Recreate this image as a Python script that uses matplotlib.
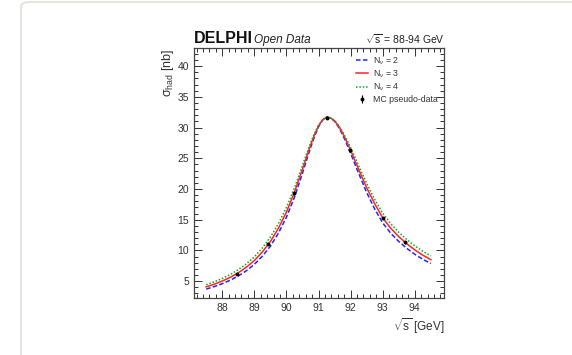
import matplotlib
matplotlib.use('Agg')
import matplotlib.pyplot as plt
from matplotlib.patches import FancyBboxPatch
from matplotlib.ticker import MultipleLocator

plt.rcParams['font.family'] = ['Liberation Sans', 'DejaVu Sans']
plt.rcParams['mathtext.fontset'] = 'custom'
plt.rcParams['mathtext.rm'] = 'Liberation Sans'
plt.rcParams['mathtext.it'] = 'Liberation Sans:italic'
plt.rcParams['mathtext.bf'] = 'Liberation Sans:bold'

# curve sample energies (GeV)
energy = [87.5, 87.75, 88.0, 88.25, 88.5, 88.75, 89.0, 89.25, 89.5, 89.75,
          90.0, 90.25, 90.5, 90.625, 90.75, 90.875, 91.0, 91.125, 91.25, 91.375,
          91.5, 91.625, 91.75, 91.875, 92.0, 92.25, 92.5, 92.75, 93.0, 93.25,
          93.5, 93.75, 94.0, 94.25, 94.5]

# cross sections (nb)
sigma_n2 = [3.70, 4.11, 4.58, 5.15, 5.84, 6.68, 7.72, 9.05, 10.68, 12.80,
            15.40, 18.65, 22.57, 24.64, 26.68, 28.55, 30.11, 31.20, 31.70, 31.57,
            31.02, 30.08, 28.84, 27.39, 25.80, 22.56, 19.44, 16.75, 14.47, 12.80,
            11.46, 10.34, 9.37, 8.55, 7.86]
sigma_n3 = [4.07, 4.50, 5.01, 5.62, 6.36, 7.26, 8.35, 9.75, 11.44, 13.60,
            16.24, 19.45, 23.24, 25.20, 27.10, 28.83, 30.26, 31.24, 31.68, 31.58,
            31.09, 30.23, 29.10, 27.76, 26.30, 23.20, 20.20, 17.60, 15.30, 13.60,
            12.24, 11.08, 10.08, 9.22, 8.50]
sigma_n4 = [4.41, 4.88, 5.43, 6.08, 6.86, 7.80, 8.95, 10.40, 12.15, 14.35,
            16.99, 20.16, 23.82, 25.68, 27.47, 29.07, 30.39, 31.29, 31.70, 31.59,
            31.14, 30.37, 29.33, 28.08, 26.73, 23.81, 20.91, 18.32, 16.06, 14.36,
            12.96, 11.78, 10.75, 9.86, 9.11]

# MC pseudo-data
data_x = [88.45, 89.44, 90.24, 91.28, 91.98, 93.0, 93.7]
data_y = [6.2, 11.0, 19.3, 31.6, 26.3, 15.3, 11.3]
data_err = [0.12, 0.18, 0.22, 0.25, 0.25, 0.2, 0.18]

fig = plt.figure(figsize=(5.72, 3.55), dpi=100)

# card outline
card = FancyBboxPatch((21 / 572, -0.05), 1.0, 1 - 2 / 355 + 0.05,
                      boxstyle='round,pad=0,rounding_size=0.015',
                      transform=fig.transFigure, fill=False,
                      edgecolor='#e6e4df', linewidth=1.5)
fig.patches.append(card)

ax = fig.add_axes([194 / 572, 1 - 297.7 / 355, (444.3 - 194) / 572, (297.7 - 48.3) / 355])

ax.plot(energy, sigma_n2, color='#2424ff', ls=(0, (3, 1.5)), lw=1.1, label=r'N$_\nu$ = 2')
ax.plot(energy, sigma_n3, color='#ff2424', ls='-', lw=1.1, label=r'N$_\nu$ = 3')
ax.plot(energy, sigma_n4, color='#22a022', ls=(0, (1, 1.2)), lw=1.1, label=r'N$_\nu$ = 4')
ax.errorbar(data_x, data_y, yerr=data_err, fmt='o', color='black', ms=1.8,
            elinewidth=0.8, capsize=0, label='MC pseudo-data')

ax.set_xlim(87.12, 94.92)
ax.set_ylim(2.3, 42.9)
ax.xaxis.set_major_locator(MultipleLocator(1))
ax.xaxis.set_minor_locator(MultipleLocator(0.2))
ax.yaxis.set_major_locator(MultipleLocator(5))
ax.yaxis.set_minor_locator(MultipleLocator(1))
ax.tick_params(which='both', direction='in', top=True, right=True,
               labelsize=7.5, colors='#333333', width=0.7)
ax.tick_params(which='major', length=6)
ax.tick_params(which='minor', length=3)
for sp in ax.spines.values():
    sp.set_color('#444444')
    sp.set_linewidth(0.9)

ax.set_xlabel(r'$\sqrt{\mathrm{s}}$ [GeV]', fontsize=8.5, loc='right', color='#333333', labelpad=3)
ax.set_ylabel(r'$\mathrm{σ}_{\mathrm{had}}$ [nb]', fontsize=9, loc='top', color='#333333', labelpad=1)

ax.text(0.0, 1.01, 'DELPHI', transform=ax.transAxes, fontsize=11.5,
        fontweight='bold', ha='left', va='bottom', color='#111111')
ax.text(0.24, 1.01, 'Open Data', transform=ax.transAxes, fontsize=8.5,
        style='italic', ha='left', va='bottom', color='#222222')
ax.text(1.0, 1.01, r'$\sqrt{\mathrm{s}}$ = 88-94 GeV', transform=ax.transAxes, fontsize=7.5,
        ha='right', va='bottom', color='#222222')

leg = ax.legend(loc='upper right', fontsize=6.3, frameon=False, handlelength=1.4,
                labelspacing=0.2, borderaxespad=0.4, handletextpad=0.5)
for t in leg.get_texts():
    t.set_color('#333333')

fig.savefig('out.png', dpi=100)
